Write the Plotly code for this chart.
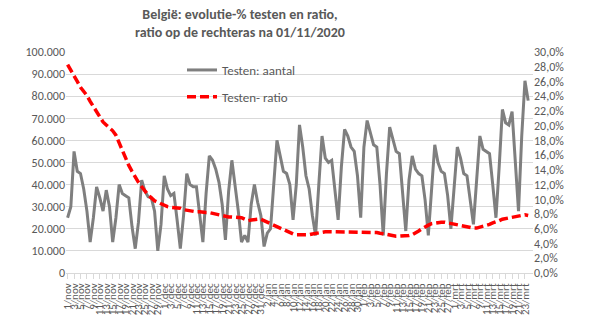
import pandas as pd
import plotly.graph_objects as go

# Daily figures, 1 Nov 2020 onwards
start_date = "2020-11-01"

testen_aantal = [
    25000, 30000, 55000, 46000, 45000, 38000, 28000,
    14000, 25000, 39000, 34000, 28000, 37500, 30000,
    14000, 25000, 40000, 36000, 35000, 34000, 21000,
    11000, 23000, 42000, 37000, 34500, 34000, 28000,
    10000, 22000, 44000, 38000, 35000, 36000, 24000,
    11000, 26000, 45000, 40000, 39000, 39000, 27000,
    14000, 36000, 53000, 51000, 47000, 41000, 31000,
    15000, 37000, 51000, 40000, 28000, 14000, 17000,
    14000, 31000, 40000, 32000, 26000, 12000, 18000,
    20000, 40000, 60000, 53000, 46000, 45000, 40000,
    24000, 40000, 67000, 57000, 44000, 38000, 26000,
    17000, 40000, 62000, 52000, 50000, 51000, 38000,
    24000, 48000, 65000, 62000, 57000, 55000, 44000,
    25000, 57000, 69000, 63000, 58000, 57000, 40000,
    17000, 45000, 66000, 60000, 55000, 54000, 38000,
    19000, 42000, 53000, 47000, 45000, 44000, 33000,
    17000, 38000, 58000, 50000, 46000, 45000, 35000,
    20000, 40000, 57000, 52000, 45000, 44000, 34000,
    22000, 42000, 62000, 56000, 55000, 54000, 40000,
    25000, 48000, 74000, 68000, 67000, 73000, 50000,
    28000, 62000, 87000, 78000,
]

testen_ratio = [
    28.3, 27.6, 26.8, 26.0, 25.2, 24.7, 24.1,
    23.3, 22.6, 21.8, 21.0, 20.5, 20.1, 19.7,
    19.3, 18.7, 17.6, 16.6, 15.6, 14.6, 13.8,
    13.0, 12.3, 11.7, 11.1, 10.6, 10.2, 9.8,
    9.6, 9.4, 9.1, 9.0, 8.9, 8.9, 8.8,
    8.8, 8.6, 8.5, 8.4, 8.3, 8.3, 8.3,
    8.2, 8.2, 8.2, 8.1, 8.0, 7.9, 7.8,
    7.6, 7.6, 7.6, 7.6, 7.6, 7.5, 7.3,
    7.1, 7.2, 7.3, 7.3, 7.3, 7.1, 6.9,
    6.7, 6.5, 6.3, 6.1, 5.9, 5.7, 5.4,
    5.3, 5.2, 5.2, 5.1, 5.1, 5.2, 5.3,
    5.4, 5.5, 5.5, 5.6, 5.6, 5.6, 5.6,
    5.6, 5.6, 5.6, 5.6, 5.6, 5.6, 5.6,
    5.6, 5.6, 5.6, 5.6, 5.6, 5.5, 5.4,
    5.3, 5.2, 5.1, 5.1, 5.0, 5.0, 5.0,
    5.0, 5.1, 5.2, 5.4, 5.7, 6.0, 6.3,
    6.5, 6.7, 6.8, 6.9, 6.9, 6.9, 6.8,
    6.7, 6.6, 6.5, 6.4, 6.3, 6.2, 6.1,
    6.1, 6.1, 6.2, 6.3, 6.4, 6.6, 6.8,
    6.9, 7.1, 7.3, 7.4, 7.5, 7.6, 7.7,
    7.8, 7.9, 7.9, 7.8,
]

maanden = {1: "jan", 2: "feb", 3: "mrt", 4: "apr", 5: "mei", 6: "jun",
           7: "jul", 8: "aug", 9: "sep", 10: "okt", 11: "nov", 12: "dec"}

datums = pd.date_range(start_date, periods=len(testen_aantal), freq="D")
tick_datums = datums[::2]
tick_tekst = [f"{d.day}/{maanden[d.month]}" for d in tick_datums]

FONT = "Carlito, Lato, 'Open Sans', sans-serif"
TEXT_GREY = "#595959"
GRID = "#d9d9d9"

fig = go.Figure()

fig.add_trace(go.Scatter(
    x=datums, y=testen_aantal, name="Testen: aantal",
    mode="lines", line=dict(color="#7f7f7f", width=3),
    legendgroup="a", yaxis="y",
))
fig.add_trace(go.Scatter(
    x=datums, y=[r / 100 for r in testen_ratio], name="Testen- ratio",
    mode="lines", line=dict(color="#ff0000", width=3.5, dash="9px,4px"),
    legendgroup="b", yaxis="y2",
))

# two-line title above the plot area
fig.add_annotation(
    text="<b>België: evolutie-% testen en ratio,<br>ratio op de rechteras na 01/11/2020</b>",
    xref="paper", yref="paper",
    x=(240 - 66) / 467, xanchor="center",
    y=1 + (52 - 4) / 221, yanchor="top",
    showarrow=False, align="center",
    font=dict(family=FONT, size=14, color=TEXT_GREY),
)

fig.update_layout(
    width=589, height=329,
    margin=dict(l=66, r=56, t=52, b=56),
    paper_bgcolor="white", plot_bgcolor="white",
    separators=",.",
    font=dict(family=FONT, color=TEXT_GREY, size=12),
    showlegend=True,
    legend=dict(
        x=(182 - 66) / 467, y=1 - (55 - 52) / 221, xanchor="left", yanchor="top",
        bgcolor="rgba(0,0,0,0)", font=dict(family=FONT, size=13, color=TEXT_GREY),
        traceorder="grouped", tracegroupgap=7,
    ),
    xaxis=dict(
        type="date",
        range=[datums[0] - pd.Timedelta(hours=12), datums[-1] + pd.Timedelta(hours=36)],
        tickmode="array", tickvals=tick_datums, ticktext=tick_tekst,
        tickangle=-90, tickfont=dict(size=11, color=TEXT_GREY),
        ticks="outside", ticklen=5, tickcolor=GRID,
        showline=True, linecolor=GRID, linewidth=1,
        showgrid=False, zeroline=False,
    ),
    yaxis=dict(
        range=[0, 100000], dtick=10000, tickformat=",d",
        showgrid=True, gridcolor=GRID, gridwidth=1,
        zeroline=False, showline=False, ticks="",
        tickfont=dict(size=12, color=TEXT_GREY),
    ),
    yaxis2=dict(
        overlaying="y", side="right",
        range=[0, 0.30], dtick=0.02, tickformat=".1%",
        showgrid=False, zeroline=False, showline=False, ticks="",
        tickfont=dict(size=12, color=TEXT_GREY),
    ),
)

fig.write_html("out.html")
